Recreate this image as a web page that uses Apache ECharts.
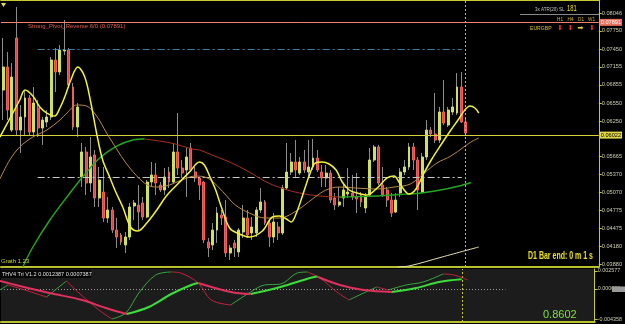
<!DOCTYPE html>
<html>
<head>
<meta charset="utf-8">
<script src="https://cdn.jsdelivr.net/npm/echarts@6.0.0/dist/echarts.min.js"></script>
<style>
html,body{margin:0;padding:0;background:#000;}
#chart{width:625px;height:324px;}
</style>
</head>
<body>
<div id="chart"></div>
<script>
// ---- data ----
const candleOpen = [0.06769,0.07151,0.06106,0.07632,0.06106,0.06322,0.06637,0.06073,0.06471,0.06139,
0.06239,0.06322,0.07267,0.07068,0.07416,0.07433,0.06819,0.06156,0.05327,0.05742,
0.05228,0.05692,0.04979,0.05078,0.04647,0.04780,0.04448,0.04366,0.04200,0.04332,
0.04846,0.04863,0.04896,0.04664,0.05244,0.05360,0.05194,0.05112,0.05410,0.05244,
0.05742,0.05476,0.05443,0.05808,0.05410,0.05311,0.05244,0.04250,0.04200,0.04448,
0.04697,0.04664,0.04067,0.04233,0.04084,0.04415,0.04647,0.04399,0.04399,0.04780,
0.04913,0.04564,0.04332,0.04498,0.04399,0.05145,0.05410,0.05576,0.05393,0.05576,
0.05410,0.05493,0.05642,0.05410,0.05311,0.05393,0.04979,0.04863,0.04979,0.05045,
0.05062,0.04996,0.05029,0.04813,0.05029,0.05609,0.05825,0.05194,0.05112,0.04946,
0.04747,0.05062,0.05410,0.05493,0.05825,0.05609,0.05078,0.05659,0.06106,0.06040,
0.05940,0.06405,0.06189,0.06405,0.06388,0.06819,0.06239];
const candleClose = [0.07151,0.06438,0.06985,0.06106,0.06322,0.06637,0.06073,0.06554,0.06139,0.06272,
0.06322,0.07267,0.07068,0.07433,0.07433,0.06852,0.06156,0.06488,0.05742,0.05228,
0.05659,0.04979,0.05277,0.04647,0.04780,0.04448,0.04332,0.04250,0.04332,0.04830,
0.04896,0.04747,0.04664,0.05244,0.05360,0.05228,0.05112,0.05327,0.05244,0.05742,
0.05476,0.05393,0.05659,0.05443,0.05311,0.05194,0.04283,0.04150,0.04448,0.04730,
0.04647,0.04067,0.04150,0.04150,0.04448,0.04647,0.04366,0.04498,0.04780,0.04913,
0.04564,0.04332,0.04581,0.04399,0.05145,0.05410,0.05576,0.05443,0.05576,0.05443,
0.05493,0.05642,0.05443,0.05311,0.05393,0.04946,0.04863,0.04913,0.05112,0.05078,
0.04996,0.04963,0.04913,0.04996,0.05609,0.05825,0.05228,0.05029,0.04946,0.04730,
0.04946,0.05410,0.05493,0.05825,0.05609,0.05112,0.05659,0.06106,0.06040,0.05940,
0.06405,0.06222,0.06438,0.06488,0.06819,0.06239,0.06056];
const candleLow = [0.06272,0.06272,0.06073,0.06023,0.05725,0.06023,0.06023,0.06023,0.05990,0.05858,
0.06156,0.06272,0.06736,0.07018,0.07350,0.06803,0.06106,0.05990,0.05161,0.05029,
0.05078,0.04830,0.04830,0.04581,0.04564,0.04399,0.04150,0.04200,0.04067,0.04283,
0.04614,0.04448,0.04614,0.04647,0.05161,0.05029,0.05078,0.05029,0.05145,0.05228,
0.05360,0.05311,0.04996,0.05410,0.05244,0.04946,0.04233,0.04001,0.04117,0.04233,
0.04531,0.04001,0.03951,0.04001,0.04001,0.04316,0.04316,0.04283,0.04332,0.04730,
0.04531,0.04167,0.04233,0.04283,0.04366,0.05112,0.05360,0.05327,0.05360,0.05393,
0.05327,0.05443,0.05410,0.05161,0.05161,0.04896,0.04780,0.04830,0.04830,0.04979,
0.04946,0.04730,0.04830,0.04730,0.04996,0.05576,0.05194,0.04996,0.04830,0.04664,
0.04730,0.04996,0.05360,0.05443,0.05443,0.04780,0.05062,0.05609,0.05990,0.05891,
0.05891,0.06189,0.06156,0.06355,0.06355,0.06222,0.06023];
const candleHigh = [0.07632,0.07399,0.07217,0.08145,0.06521,0.06769,0.06687,0.06819,0.06604,0.06322,
0.06438,0.07317,0.07466,0.07515,0.07930,0.07466,0.06886,0.06554,0.05891,0.05825,
0.05990,0.05775,0.05493,0.05493,0.04996,0.04830,0.04647,0.04399,0.04415,0.04896,
0.04946,0.05194,0.04996,0.05277,0.05576,0.05559,0.05244,0.05476,0.05493,0.05891,
0.06388,0.05609,0.05825,0.05891,0.05493,0.05327,0.05261,0.04316,0.04564,0.04830,
0.04780,0.04946,0.04200,0.04283,0.04481,0.04863,0.04780,0.04664,0.04830,0.05145,
0.04946,0.04614,0.04730,0.04581,0.05194,0.05891,0.05725,0.05940,0.05659,0.05775,
0.05940,0.05957,0.05775,0.05526,0.05526,0.05443,0.05062,0.05161,0.05228,0.05476,
0.05360,0.05393,0.05078,0.05062,0.05808,0.05858,0.05858,0.05493,0.05161,0.05062,
0.05062,0.05476,0.05609,0.05891,0.05891,0.05659,0.05725,0.06272,0.06156,0.06720,
0.06488,0.06935,0.06488,0.06637,0.07051,0.07068,0.06322];

// moving averages: bar position / price
const fastMaIdx = [-0.75,1.1,2.2,3.8,5.0,6.8,8.4,10.0,11.8,13.0,14.1,15.5,17.1,18.7,20.1,21.4,22.8,24.4,25.8,27.4,29.2,30.8,32.9,35.2,37.4,40.0,42.7,45.0,46.1,47.3,48.7,50.0,51.9,54.1,56.4,59.4,61.7,63.3,64.9,66.0,67.2,68.5,70.2,71.5,73.1,74.7,76.3,77.7,79.3,81.1,83.4,85.7,88.0,89.6,90.7,91.9,93.0,94.6,96.2,98.1,100.3,102.6,104.4,105.8,107.0,108.1,109.0];
const fastMaVal = [0.05990,0.06239,0.06388,0.06604,0.06769,0.06670,0.06488,0.06388,0.06339,0.06471,0.06653,0.06935,0.07151,0.06985,0.06554,0.06056,0.05609,0.05327,0.05078,0.04830,0.04498,0.04432,0.04564,0.04780,0.05012,0.05211,0.05410,0.05576,0.05526,0.05344,0.05112,0.04830,0.04481,0.04382,0.04332,0.04432,0.04664,0.04681,0.04631,0.04581,0.04730,0.04996,0.05360,0.05559,0.05576,0.05543,0.05443,0.05244,0.05112,0.05062,0.05029,0.05145,0.05311,0.05344,0.05244,0.05112,0.05045,0.05128,0.05360,0.05609,0.05858,0.06106,0.06289,0.06438,0.06504,0.06471,0.06388];
const midMaIdx = [-0.75,1.5,3.8,6.8,10.0,13.0,14.6,16.9,19.1,21.4,23.7,26.0,28.3,31.3,33.6,35.8,38.1,40.9,44.1,46.8,49.1,51.4,53.2,56.4,60.1,63.3,65.6,68.5,71.5,74.0,77.0,80.7,85.5,89.6,93.3,96.5,99.4,102.6,105.6,107.2,109.0];
const midMaVal = [0.05294,0.05609,0.05825,0.05990,0.06106,0.06272,0.06388,0.06521,0.06504,0.06339,0.06056,0.05791,0.05543,0.05294,0.05178,0.05161,0.05194,0.05277,0.05344,0.05311,0.05178,0.04996,0.04863,0.04730,0.04647,0.04647,0.04697,0.04830,0.04996,0.05112,0.05161,0.05145,0.05128,0.05161,0.05211,0.05393,0.05559,0.05675,0.05825,0.05907,0.05974];
const slowMaIdx = [4.5,6.8,10.7,14.6,18.2,22.1,26.0,29.7,32.4,35.8,39.5,43.2,45.0,48.4,51.9,56.4,60.3,64.4,67.9,72.4,77.0,80.4,83.9,87.3,90.7,95.3,99.9,104.5,107.2];
const slowMaVal = [0.03836,0.04167,0.04614,0.04996,0.05327,0.05642,0.05841,0.05940,0.05957,0.05924,0.05874,0.05791,0.05775,0.05675,0.05576,0.05410,0.05244,0.05128,0.05062,0.05012,0.04996,0.05000,0.05008,0.05020,0.05037,0.05057,0.05107,0.05178,0.05236];
const longMaIdx = [90.3,93.0,100.6,109.0];
const longMaVal = [0.03836,0.03852,0.04001,0.04167];

// oscillator sub-window
const oscThickIdx = [-0.75,3.8,10.7,18.2,23.7,28.5,33.6,38.8,43.4,45.0,52.5,57.1,64.0,70.8,72.4,77.7,83.2,89.6,95.3,100.6,105.8];
const oscThickVal = [0.001146,0.000430,-0.000573,-0.001575,-0.002721,-0.003580,-0.002578,-0.000716,0.000573,0.000859,-0.000430,-0.000716,0.000286,0.001575,0.001790,0.000573,-0.000143,-0.000430,0.000143,0.001002,0.001389];
const oscThinIdx = [-0.75,1.1,5.0,10.0,14.6,17.5,22.1,25.1,28.3,31.3,35.2,38.8,40.9,45.0,48.0,52.5,57.1,60.3,64.0,67.9,70.2,73.1,77.0,79.8,83.2,86.2,88.9,93.0,96.9,101.5,104.0,107.2];
const oscThinVal = [-0.000143,0.000573,-0.000143,-0.001146,0.001146,-0.000573,-0.003007,-0.004296,-0.003437,-0.000573,0.002005,0.002434,0.002291,0.000859,-0.001575,-0.002291,-0.000430,0.000573,0.000716,0.002291,0.002434,0.001575,-0.000430,-0.001575,-0.000573,0.000286,-0.000143,0.000573,0.001002,0.002148,0.002005,0.001289];

// levels
const pivotLevel = 0.07891;
const priceLevel = 0.06022;
const blueDashLevel = 0.07449;
const whiteDashLevel = 0.05327;
const dashFrom = 7.9, dashTo = 105.1;
const lastBar = 106;

// axis ticks
const priceTicks = [0.08046,0.07750,0.07450,0.07155,0.06855,0.06550,0.06250,0.05665,0.05370,0.05070,0.04775,0.04475,0.04180,0.03880];
const oscTicks = [0.002577,0,-0.004358];
const slotCount = 137;

// ---- build ----
const slots = [];
for (let i = 0; i < slotCount; i++) slots.push(String(i));
const wickData = candleOpen.map((o, i) => [o, candleClose[i], candleLow[i], candleHigh[i]]);
const bodyData = candleOpen.map((o, i) => [o, candleClose[i], Math.min(o, candleClose[i]), Math.max(o, candleClose[i])]);
const pairs = (xs, ys) => xs.map((x, i) => [x, ys[i]]);

function dirSegments(xs, ys) {
  const segs = []; let cur = null;
  for (let i = 0; i < xs.length - 1; i++) {
    const up = ys[i + 1] >= ys[i];
    if (!cur || cur.up !== up) { cur = { up, data: [[xs[i], ys[i]]] }; segs.push(cur); }
    cur.data.push([xs[i + 1], ys[i + 1]]);
  }
  return segs;
}
const lineSeries = (data, xi, yi, color, width, extra) => Object.assign({
  type: 'line', xAxisIndex: xi, yAxisIndex: yi, data, showSymbol: false, symbol: 'none',
  smooth: 0.35, lineStyle: { color, width }, silent: true, animation: false, z: 5
}, extra || {});

const series = [];
series.push({
  type: 'candlestick', xAxisIndex: 0, yAxisIndex: 0, data: wickData, barWidth: 1,
  itemStyle: { color: '#8c8c8c', color0: '#8c8c8c', borderColor: '#8c8c8c', borderColor0: '#8c8c8c', borderWidth: 1 },
  silent: true, z: 3
});
series.push({
  type: 'candlestick', xAxisIndex: 0, yAxisIndex: 0, data: bodyData, barWidth: 2.4,
  itemStyle: { color: '#cfe05c', color0: '#e84444', borderColor: '#cfe05c', borderColor0: '#f06060', borderWidth: 1 },
  silent: true, z: 4
});
// level lines
series.push(lineSeries([], 1, 0, '#000', 0, {
  z: 2,
  markLine: {
    silent: true, symbol: ['none', 'none'], animation: false, precision: 6,
    data: [
      { yAxis: pivotLevel, lineStyle: { color: '#f08070', width: 1, type: 'solid' },
        label: { show: true, position: 'end', formatter: pivotLevel.toFixed(5), color: '#fff', backgroundColor: '#e8705c', fontSize: 5.6, fontFamily: 'Liberation Sans', padding: [1, 1, 0, 1], distance: 1 } },
      { yAxis: priceLevel, lineStyle: { color: '#d8d040', width: 1, type: 'solid' },
        label: { show: true, position: 'end', formatter: priceLevel.toFixed(5), color: '#000', backgroundColor: '#e0d848', fontSize: 5.6, fontFamily: 'Liberation Sans', padding: [1, 1, 0, 1], distance: 1 } },
      [{ coord: [dashFrom, blueDashLevel], lineStyle: { color: '#3f7f9f', width: 1, type: [7, 3, 2, 3] }, label: { show: false } }, { coord: [dashTo, blueDashLevel] }],
      [{ coord: [dashFrom, whiteDashLevel], lineStyle: { color: '#c8c8c8', width: 1, type: [7, 3, 2, 3] }, label: { show: false } }, { coord: [dashTo, whiteDashLevel] }],
      { xAxis: lastBar, lineStyle: { color: '#c8c040', width: 1, type: [2, 2] }, label: { show: false } }
    ]
  }
}));
// moving averages
series.push(lineSeries(pairs(longMaIdx, longMaVal), 1, 0, '#e8e0b8', 1));
dirSegments(slowMaIdx, slowMaVal).forEach(s => series.push(lineSeries(s.data, 1, 0, s.up ? '#22a822' : '#a83020', s.up ? 1.4 : 1)));
series.push(lineSeries(pairs(midMaIdx, midMaVal), 1, 0, '#b8894a', 1));
series.push(lineSeries(pairs(fastMaIdx, fastMaVal), 1, 0, '#f2f23c', 1.5, { z: 6 }));
// oscillator
series.push(lineSeries([], 2, 1, '#000', 0, {
  markLine: {
    silent: true, symbol: ['none', 'none'], animation: false, precision: 6,
    data: [
      [{ coord: [-0.5, 0], lineStyle: { color: '#9a9a9a', width: 1, type: [1, 2] }, label: { show: false } }, { coord: [115.9, 0] }],
      { xAxis: lastBar, lineStyle: { color: '#c8c040', width: 1, type: [2, 2] }, label: { show: false } }
    ]
  }
}));
dirSegments(oscThinIdx, oscThinVal).forEach(s => series.push(lineSeries(s.data, 2, 1, s.up ? '#34a83c' : '#c8203e', 1)));
dirSegments(oscThickIdx, oscThickVal).forEach(s => series.push(lineSeries(s.data, 2, 1, s.up ? '#3ade3a' : '#e0305c', 2)));

const T = (x, y, text, fill, size, opts) => Object.assign({
  type: 'text', x, y, silent: true, z: 100,
  style: Object.assign({ text, fill, fontSize: size, fontFamily: 'Liberation Sans', verticalAlign: 'middle', align: 'left' }, (opts && opts.style) || {})
}, opts && opts.el || {});

const chart = echarts.init(document.getElementById('chart'), null, { renderer: 'canvas' });
chart.setOption({
  backgroundColor: '#000',
  animation: false,
  grid: [
    { left: 1, right: 24, top: 0, height: 267, show: false },
    { left: 1, right: 24, top: 269, height: 53, show: true, backgroundColor: '#1c1c1c', borderWidth: 0 }
  ],
  xAxis: [
    { type: 'category', gridIndex: 0, data: slots, boundaryGap: true, axisLine: { show: true, onZero: false, lineStyle: { color: '#b8c030', width: 2 } }, axisTick: { show: false }, axisLabel: { show: false }, splitLine: { show: false } },
    { type: 'value', gridIndex: 0, min: -0.5, max: slotCount - 0.5, position: 'top', axisLine: { show: true, onZero: false, lineStyle: { color: '#c8c832', width: 2 } }, axisTick: { show: false }, axisLabel: { show: false }, splitLine: { show: false } },
    { type: 'value', gridIndex: 1, min: -0.5, max: slotCount - 0.5, position: 'bottom', axisLine: { show: true, onZero: false, lineStyle: { color: '#b8c030', width: 2 } }, axisTick: { show: false }, axisLabel: { show: false }, splitLine: { show: false } }
  ],
  yAxis: [
    { type: 'value', gridIndex: 0, position: 'right', min: 0.03835, max: 0.08262, scale: true,
      axisLine: { show: true, onZero: false, lineStyle: { color: '#c8c832', width: 1 } },
      axisTick: { show: true, length: 3, customValues: priceTicks, lineStyle: { color: '#c8c832' } },
      axisLabel: { show: true, customValues: priceTicks, formatter: v => v.toFixed(5), color: '#cfcfb0', fontSize: 5.6, fontFamily: 'Liberation Sans', margin: 3 },
      splitLine: { show: false } },
    { type: 'value', gridIndex: 1, position: 'right', min: -0.004725, max: 0.002863, scale: true,
      axisLine: { show: true, onZero: false, lineStyle: { color: '#c8c832', width: 1 } },
      axisTick: { show: true, length: 3, customValues: oscTicks, lineStyle: { color: '#c8c832' } },
      axisLabel: { show: true, customValues: oscTicks, formatter: v => v.toFixed(6), color: '#cfcfb0', fontSize: 5.4, fontFamily: 'Liberation Sans', margin: 3 },
      splitLine: { show: false } }
  ],
  series,
  graphic: [
    { type: 'polygon', shape: { points: [[1, 3], [6, 3], [3.5, 7]] }, style: { fill: '#e8e040' }, silent: true },
    T(28, 26, 'Strong_Pivot_Reverse 6/0 (0.07891)', '#e0604c', 6),
    T(535, 9.5, '3x ATR(20) SL', '#c8c8c8', 6, { el: { scaleX: 0.75 } }),
    T(567, 9, '181', '#e8d830', 9, { el: { scaleX: 0.65 } }),
    { type: 'line', shape: { x1: 520, y1: 14.5, x2: 600, y2: 14.5 }, style: { stroke: '#8a8a8a', lineWidth: 1 }, silent: true },
    T(557, 19, 'H1', '#d0b040', 5.5, { el: { scaleX: 0.85 } }),
    T(567.5, 19, 'H4', '#d0b040', 5.5, { el: { scaleX: 0.85 } }),
    T(578, 19, 'D1', '#d0b040', 5.5, { el: { scaleX: 0.85 } }),
    T(588, 19, 'W1', '#d0b040', 5.5, { el: { scaleX: 0.85 } }),
    T(530, 28, 'EURGBP', '#d8c030', 6, { el: { scaleX: 0.85 } }),
    T(560, 28, '⬇', '#e83030', 7, { style: { align: 'center', fontFamily: 'DejaVu Sans' } }),
    T(570.5, 28, '⬇', '#e83030', 7, { style: { align: 'center', fontFamily: 'DejaVu Sans' } }),
    T(580.5, 28, '➡', '#ecd830', 7, { style: { align: 'center', fontFamily: 'DejaVu Sans' } }),
    T(592, 28, '⬇', '#e83030', 7, { style: { align: 'center', fontFamily: 'DejaVu Sans' } }),
    T(528, 256, 'D1 Bar end: 0 m 1 s', '#ece020', 10, { style: { fontWeight: 'bold' }, el: { scaleX: 0.7 } }),
    T(1, 261.5, 'Grath 1.23', '#c8d040', 6),
    { type: 'rect', shape: { x: 0, y: 270, width: 91, height: 8 }, style: { fill: '#060606' }, silent: true, z: 99 },
    T(2, 274.3, 'THV4 Tri V1.2 0.0012387 0.0007387', '#e0e0e0', 5.5),
    { type: 'rect', shape: { x: 612, y: 286.5, width: 13, height: 5.5 }, style: { fill: '#9a9a9a' }, silent: true, z: 99 },
    T(543, 315, '0.8602', '#7ee03e', 11)
  ]
});
</script>
</body>
</html>
